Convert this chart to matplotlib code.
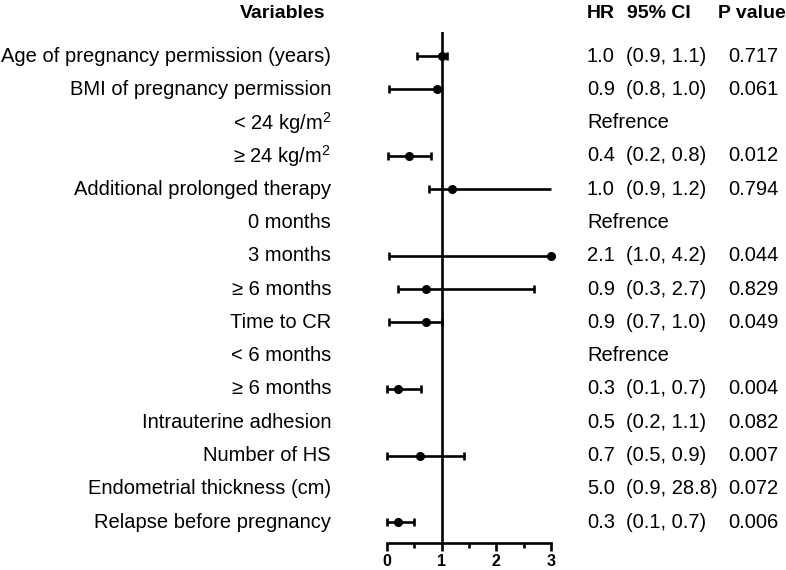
import numpy as np
import matplotlib
matplotlib.use("Agg")
import matplotlib.pyplot as plt

plt.rcParams['font.family'] = ['Liberation Sans', 'DejaVu Sans']
plt.rcParams['mathtext.fontset'] = 'custom'
plt.rcParams['mathtext.rm'] = 'Liberation Sans'
plt.rcParams['mathtext.it'] = 'Liberation Sans:italic'
plt.rcParams['mathtext.bf'] = 'Liberation Sans:bold'

# Variable labels (top to bottom)
variables = [
    "Age of pregnancy permission (years)",
    "BMI of pregnancy permission",
    "< 24 kg/m$^2$",
    "≥ 24 kg/m$^2$",
    "Additional prolonged therapy",
    "0 months",
    "3 months",
    "≥ 6 months",
    "Time to CR",
    "< 6 months",
    "≥ 6 months",
    "Intrauterine adhesion",
    "Number of HS",
    "Endometrial thickness (cm)",
    "Relapse before pregnancy",
]

# Text columns
hr_txt = ["1.0", "0.9", "Refrence", "0.4", "1.0", "Refrence", "2.1", "0.9", "0.9",
          "Refrence", "0.3", "0.5", "0.7", "5.0", "0.3"]
ci_txt = ["(0.9, 1.1)", "(0.8, 1.0)", "", "(0.2, 0.8)", "(0.9, 1.2)", "", "(1.0, 4.2)",
          "(0.3, 2.7)", "(0.7, 1.0)", "", "(0.1, 0.7)", "(0.2, 1.1)", "(0.5, 0.9)",
          "(0.9, 28.8)", "(0.1, 0.7)"]
p_txt = ["0.717", "0.061", "", "0.012", "0.794", "", "0.044", "0.829", "0.049", "",
         "0.004", "0.082", "0.007", "0.072", "0.006"]

# Plotted estimates as drawn (nan = not drawn)
point = [1.00, 0.91, np.nan, 0.40, 1.19, np.nan, 3.00, 0.71, 0.71, np.nan, 0.21, np.nan, 0.60, np.nan, 0.21]
lower = [0.55, 0.04, np.nan, 0.01, 0.77, np.nan, 0.04, 0.21, 0.04, np.nan, 0.00, np.nan, 0.00, np.nan, 0.00]
upper = [1.10, 0.92, np.nan, 0.80, 3.10, np.nan, 3.10, 2.69, 1.00, np.nan, 0.62, np.nan, 1.41, np.nan, 0.50]

xticks = [0, 1, 2, 3]
xmax = 3.0
n = len(variables)
ys = -np.arange(n)
point = np.array(point)
lower = np.array(lower)
upper = np.array(upper)

fig = plt.figure(figsize=(7.86, 5.70), dpi=100)
ax = fig.add_axes([387 / 786, 1 - 543 / 570, (551 - 387) / 786, (543 - 32) / 570])
ax.set_xlim(0, xmax)
ax.set_ylim(-14.62, 0.72)

lw = 1.9
ok = ~np.isnan(point)
ax.hlines(ys[ok], lower[ok], np.minimum(upper[ok], xmax), color='black', lw=lw, clip_on=False, zorder=3)
ax.plot(lower[ok], ys[ok], ls='none', marker='|', ms=6, mew=lw, color='black', clip_on=False, zorder=3)
capped = ok & (upper <= xmax)
ax.plot(upper[capped], ys[capped], ls='none', marker='|', ms=6, mew=lw, color='black', clip_on=False, zorder=3)
ax.plot(point[ok], ys[ok], ls='none', marker='o', ms=5.5, color='black', clip_on=False, zorder=4)

ax.axvline(1, color='black', lw=lw, zorder=2)

for s in ['left', 'top', 'right']:
    ax.spines[s].set_visible(False)
ax.spines['bottom'].set_linewidth(lw)
ax.set_yticks([])
ax.set_xticks(xticks, labels=[str(t) for t in xticks], fontsize=11.5, fontweight='bold')
ax.set_xticks([0.5, 1.5, 2.5], minor=True)
ax.tick_params(axis='x', which='major', length=6, width=lw, pad=2)
ax.tick_params(axis='x', which='minor', length=3.5, width=lw)

# text columns (figure pixel coordinates)
def fx(px):
    return px / 786

def fy(row):
    return 1 - (56 + 33.3 * row) / 570

hy = 1 - 13 / 570
fig.text(fx(325), hy, "Variables", ha='right', va='center', fontsize=14, fontweight='bold')
fig.text(fx(587), hy, "HR", ha='left', va='center', fontsize=14, fontweight='bold')
fig.text(fx(627), hy, "95% CI", ha='left', va='center', fontsize=14, fontweight='bold')
fig.text(fx(718), hy, "P value", ha='left', va='center', fontsize=14, fontweight='bold')

for i in range(n):
    y = fy(i)
    fig.text(fx(331), y, variables[i], ha='right', va='center', fontsize=14.5)
    fig.text(fx(587), y, hr_txt[i], ha='left', va='center', fontsize=14.5)
    if ci_txt[i]:
        fig.text(fx(626), y, ci_txt[i], ha='left', va='center', fontsize=14.5)
    if p_txt[i]:
        fig.text(fx(728), y, p_txt[i], ha='left', va='center', fontsize=14.5)

fig.savefig("out.png", dpi=100)
